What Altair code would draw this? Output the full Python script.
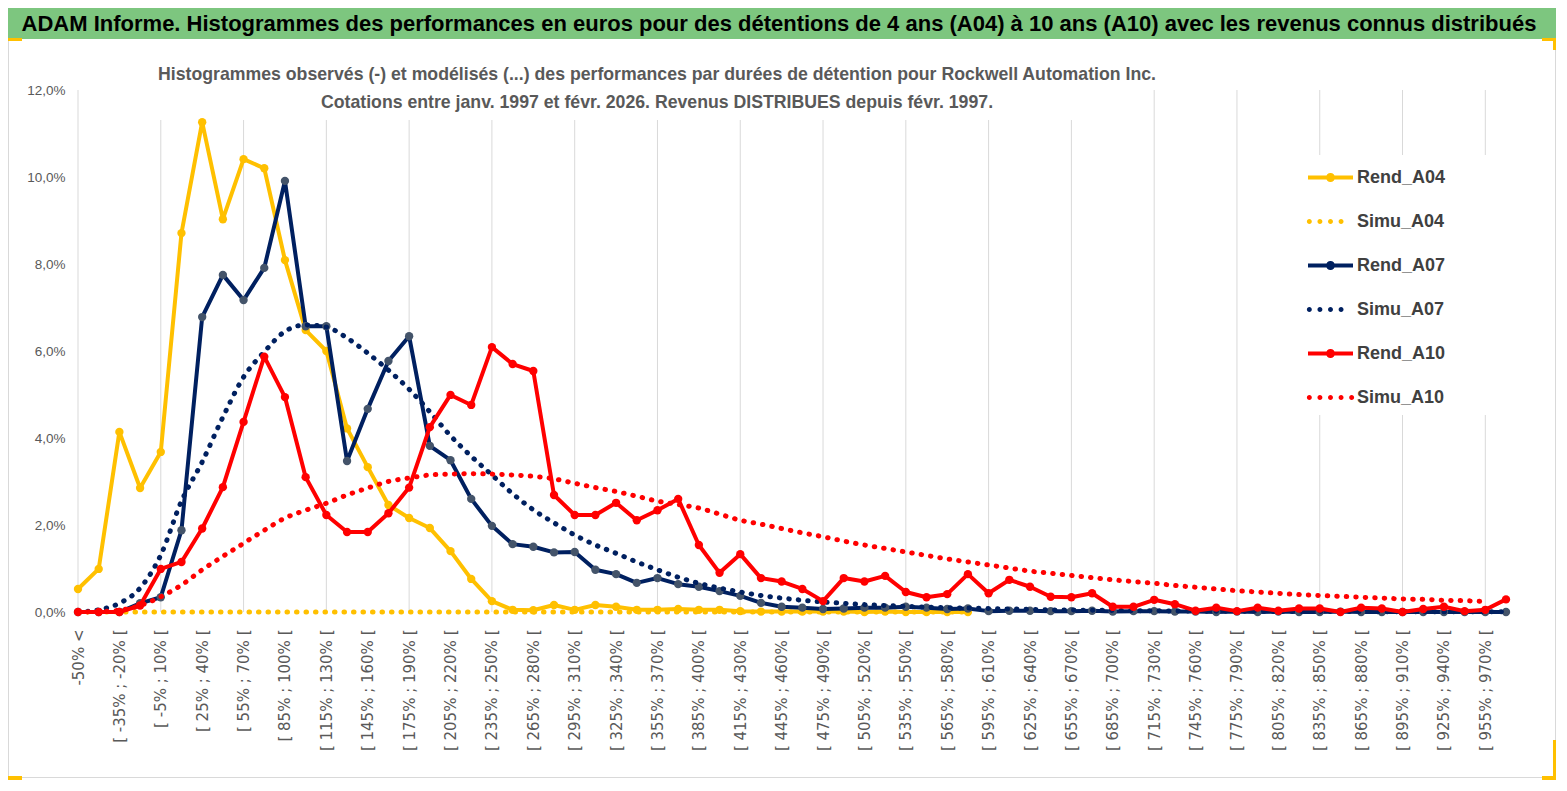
import altair as alt
import pandas as pd

# ---------------- data ----------------
cats = ["-50% <"] + [f"[ {a}% ; {a + 15}% [" for a in range(-50, 971, 15)]
tick_labels = cats[::2]
grid_cats = cats[::4]

series_names = ["Rend_A04", "Simu_A04", "Rend_A07", "Simu_A07", "Rend_A10", "Simu_A10"]
series_colors = ["#FFC000", "#FFC000", "#002060", "#002060", "#FF0000", "#FF0000"]
y_ticks = [0, 2, 4, 6, 8, 10, 12]

rend_a04 = [0.53, 0.99, 4.14, 2.85, 3.68, 8.71, 11.26, 9.03, 10.41, 10.2,
            8.09, 6.48, 6.0, 4.22, 3.33, 2.46, 2.16, 1.93, 1.40, 0.76,
            0.25, 0.05, 0.04, 0.16, 0.05, 0.16, 0.12, 0.05, 0.05, 0.07,
            0.05, 0.05, 0.02, 0.01, 0.01, 0.01, 0.01, 0.01, 0.0, 0.01,
            0.0, 0.0, 0.0, 0.0]
simu_a04 = [0.0] * 44

rend_a07 = [0.0, 0.0, 0.0, 0.2, 0.34, 1.88, 6.78, 7.75, 7.17, 7.91,
            9.91, 6.57, 6.57, 3.47, 4.67, 5.77, 6.34, 3.82, 3.49, 2.6,
            1.98, 1.56, 1.5, 1.37, 1.38, 0.97, 0.87, 0.67, 0.78, 0.64,
            0.58, 0.48, 0.37, 0.21, 0.12, 0.1, 0.07, 0.08, 0.1, 0.1,
            0.12, 0.1, 0.07, 0.08, 0.02, 0.03, 0.03, 0.02, 0.02, 0.03,
            0.01, 0.02, 0.02, 0.01, 0.01, 0.0, 0.01, 0.0, 0.01, 0.0,
            0.0, 0.01, 0.0, 0.0, 0.0, 0.0, 0.0, 0.0, 0.0, 0.0]
simu_a07 = [0.0, 0.05, 0.2, 0.55, 1.31, 2.55, 3.45, 4.48, 5.4, 5.98,
            6.45, 6.6, 6.55, 6.3, 5.95, 5.56, 5.12, 4.6, 4.05, 3.58,
            3.15, 2.72, 2.35, 2.05, 1.77, 1.54, 1.35, 1.15, 0.97, 0.8,
            0.66, 0.55, 0.46, 0.38, 0.32, 0.27, 0.23, 0.2, 0.17, 0.15,
            0.13, 0.11, 0.1, 0.09, 0.08, 0.07, 0.06, 0.05, 0.045, 0.04,
            0.035, 0.03, 0.027, 0.024, 0.021, 0.019, 0.017, 0.015, 0.013, 0.012,
            0.011, 0.01, 0.009, 0.008, 0.007, 0.006, 0.006, 0.005, 0.005, 0.004]

rend_a10 = [0.0, 0.0, 0.0, 0.15, 0.99, 1.15, 1.92, 2.87, 4.37, 5.87,
            4.94, 3.1, 2.23, 1.84, 1.84, 2.27, 2.86, 4.25, 4.99, 4.76,
            6.09, 5.7, 5.54, 2.69, 2.23, 2.23, 2.51, 2.11, 2.34, 2.6,
            1.54, 0.9, 1.33, 0.78, 0.7, 0.53, 0.25, 0.78, 0.7, 0.83,
            0.46, 0.34, 0.41, 0.87, 0.43, 0.74, 0.58, 0.35, 0.34, 0.43,
            0.12, 0.12, 0.28, 0.18, 0.03, 0.1, 0.02, 0.1, 0.03, 0.08,
            0.08, 0.0, 0.1, 0.08, 0.0, 0.07, 0.12, 0.02, 0.05, 0.29]
simu_a10 = [0.0, 0.01, 0.04, 0.15, 0.35, 0.62, 0.97, 1.28, 1.58, 1.88,
            2.16, 2.34, 2.5, 2.69, 2.85, 3.0, 3.08, 3.15, 3.17, 3.18,
            3.17, 3.15, 3.12, 3.06, 2.96, 2.86, 2.77, 2.66, 2.55, 2.47,
            2.39, 2.25, 2.11, 2.02, 1.92, 1.82, 1.73, 1.63, 1.54, 1.46,
            1.38, 1.30, 1.22, 1.15, 1.08, 1.01, 0.94, 0.89, 0.84, 0.79,
            0.74, 0.70, 0.66, 0.61, 0.57, 0.53, 0.49, 0.46, 0.43, 0.40,
            0.38, 0.36, 0.34, 0.32, 0.30, 0.29, 0.27, 0.26, 0.24]

title_text = ("ADAM Informe. Histogrammes des performances en euros pour des détentions "
              "de 4 ans (A04) à 10 ans (A10) avec les revenus connus distribués")
subtitle_1 = ("Histogrammes observés (-) et modélisés (...) des performances par durées "
              "de détention pour Rockwell Automation Inc.")
subtitle_2 = "Cotations entre janv. 1997 et févr. 2026. Revenus DISTRIBUES depuis févr. 1997."

# ---------------- styles ----------------
FONT = "Liberation Sans"
GRID = "#D9D9D9"
TXT = "#595959"
W, H = 1428, 522


def frame(name, vals):
    return pd.DataFrame({"series": name, "cat": cats[:len(vals)], "value": vals})


x_enc = alt.X("cat:N", scale=alt.Scale(type="point", domain=cats, padding=0),
              axis=alt.Axis(values=tick_labels, labelAngle=270, domain=False, ticks=False,
                            grid=False, labelFont="DejaVu Sans", labelFontSize=15,
                            labelColor=TXT, labelPadding=17, labelOverlap=False,
                            labelLimit=0, title=None))
y_enc = alt.Y("value:Q", scale=alt.Scale(domain=[0, 12], nice=False),
              axis=alt.Axis(values=y_ticks, domain=False, ticks=False, gridColor=GRID,
                            gridWidth=1,
                            labelExpr="replace(format(datum.value, '.1f'), '.', ',') + '%'",
                            labelFont=FONT, labelFontSize=13.5, labelColor=TXT,
                            labelPadding=13, title=None))

layers = []

# vertical grid lines every 4 categories
layers.append(
    alt.Chart(pd.DataFrame({"cat": grid_cats})).mark_rule(color=GRID, strokeWidth=1).encode(
        x=x_enc, y=alt.datum(0), y2=alt.datum(12))
)

one = pd.DataFrame({"k": [0]})


def deco_rect(x, x2, y, y2, **kw):
    return alt.Chart(one).mark_rect(**kw).encode(
        x=alt.value(x), x2=alt.value(x2), y=alt.value(y), y2=alt.value(y2))


def deco_text(txt, x, y, **kw):
    return alt.Chart(one).mark_text(text=txt, **kw).encode(x=alt.value(x), y=alt.value(y))


# white boxes behind subtitle and legend, outer frame, title band
layers.append(deco_rect(72, 1075, -30, 30, color="white"))
layers.append(deco_rect(1180, 1414, 65, 325, color="white"))
layers.append(deco_rect(-69.5, 1477.5, -81.5, 687.5, fillOpacity=0, stroke=GRID, strokeWidth=1))
layers.append(deco_rect(-70, 1478, -82, -51, color="#7DC67F"))
# small yellow corner accents
for (a, b, c, d) in [(-70, -56, -52, -49), (-70, -56, 686, 690),
                     (1464, 1478, -52, -49), (1475, 1478, -52, -40),
                     (1464, 1478, 686, 690), (1475, 1478, 650, 690)]:
    layers.append(deco_rect(a, b, c, d, color="#FFC000"))

# data series, in Excel drawing order
styles = {
    "Rend_A04": dict(color="#FFC000", marker="#FFC000"),
    "Simu_A04": dict(color="#FFC000"),
    "Rend_A07": dict(color="#002060", marker="#44546A"),
    "Simu_A07": dict(color="#002060"),
    "Rend_A10": dict(color="#FF0000", marker="#FF0000"),
    "Simu_A10": dict(color="#FF0000"),
}
values = {"Rend_A04": rend_a04, "Simu_A04": simu_a04, "Rend_A07": rend_a07,
          "Simu_A07": simu_a07, "Rend_A10": rend_a10, "Simu_A10": simu_a10}

for name in series_names:
    df = frame(name, values[name])
    st = styles[name]
    base = alt.Chart(df).encode(x=x_enc, y=y_enc)
    if name.startswith("Rend"):
        layers.append(base.mark_line(color=st["color"], strokeWidth=4, strokeJoin="round"))
        layers.append(base.mark_circle(color=st["marker"], size=70, opacity=1))
    else:
        layers.append(base.mark_line(color=st["color"], strokeWidth=5, strokeCap="round",
                                     strokeDash=[0.5, 9], interpolate="monotone"))

# titles
layers.append(deco_text(title_text, 701, -66, font=FONT, fontSize=22, fontWeight="bold",
                        color="black", align="center", baseline="middle"))
layers.append(deco_text(subtitle_1, 579, -15, font=FONT, fontSize=17.7, fontWeight="bold",
                        color=TXT, align="center", baseline="middle"))
layers.append(deco_text(subtitle_2, 579, 13, font=FONT, fontSize=17.7, fontWeight="bold",
                        color=TXT, align="center", baseline="middle"))


# legend (native), symbols are custom paths: line+marker / dots
def circle(cx, r):
    return f"M{cx - r:.3f},0 A{r},{r} 0 1,1 {cx + r:.3f},0 A{r},{r} 0 1,1 {cx - r:.3f},0 Z"


rend_sym = "M-1,-0.09 L1,-0.09 L1,0.09 L-1,0.09 Z " + circle(0, 0.2)
dots4 = " ".join(circle(c, 0.11) for c in [-0.94, -0.47, 0.0, 0.47])
dots5 = " ".join(circle(c, 0.11) for c in [-0.94, -0.47, 0.0, 0.47, 0.94])
shape_range = [rend_sym, dots4, rend_sym, dots4, rend_sym, dots5]

leg = alt.Legend(title=None, orient="none", legendX=1230, legendY=65, symbolSize=2025,
                 symbolStrokeWidth=0, labelFont=FONT, labelFontSize=18,
                 labelFontWeight="bold", labelColor="#404040", labelOffset=4,
                 rowPadding=12, padding=0, labelLimit=0)
layers.append(
    alt.Chart(pd.DataFrame({"series": series_names})).mark_point(
        filled=True, size=2025, clip=True, opacity=1, strokeWidth=0).encode(
        x=alt.value(-400), y=alt.value(-400),
        color=alt.Color("series:N", scale=alt.Scale(domain=series_names, range=series_colors),
                        legend=leg),
        shape=alt.Shape("series:N", scale=alt.Scale(domain=series_names, range=shape_range),
                        legend=leg))
)

chart = alt.layer(*layers).properties(
    width=W, height=H,
    padding={"left": 70, "top": 82, "right": 50, "bottom": 168},
    autosize=alt.AutoSizeParams(type="none"),
    background="white",
).configure_view(stroke=None)

chart.save("out.html", embed_options={"renderer": "svg", "actions": False})
